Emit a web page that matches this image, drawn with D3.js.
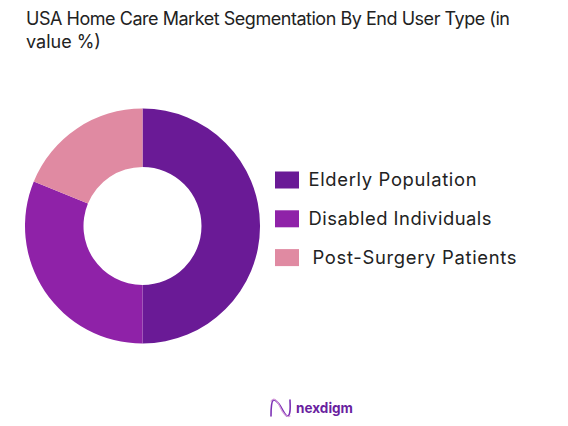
<!DOCTYPE html>
<html><head><meta charset="utf-8">
<script src="https://cdn.jsdelivr.net/npm/d3@7"></script>
<style>html,body{margin:0;padding:0;background:#fff}svg{display:block}</style></head>
<body><svg id="c" width="568" height="426"></svg>
<script>
const titleLines = ["USA Home Care Market Segmentation By End User Type (in", "value %)"];
const categories = ["Elderly Population", "Disabled Individuals", "Post-Surgery Patients"];
const values = [50, 31.2, 18.8];
const colors = ["#6a1a96", "#8f22a8", "#e08aa2"];
const brand = "nexdigm";

const svg = d3.select("#c");
const font = "Inter, 'Open Sans', sans-serif";

svg.selectAll("text.title").data(titleLines).join("text").attr("class","title")
  .attr("x",26).attr("y",(d,i)=>24.5+i*23.5)
  .attr("font-family",font).attr("font-size",18).attr("fill","#222").text(d=>d)
  .each(function(d,i){ if(i===0){ this.setAttribute("textLength",484); this.setAttribute("lengthAdjust","spacing"); } });

const pie = d3.pie().sort(null).value(d=>d)(values);
const arc = d3.arc().innerRadius(59).outerRadius(117.5);
svg.append("g").attr("transform","translate(142.5,226)")
  .selectAll("path").data(pie).join("path").attr("d",arc).attr("fill",(d,i)=>colors[i]);

const y = d3.scalePoint().domain(categories).range([180,257.6]);
const legendWidths = [168, 183, 204];
const lg = svg.append("g").selectAll("g").data(categories).join("g")
  .attr("transform",d=>`translate(0,${y(d)})`);
lg.append("rect").attr("x",275).attr("y",-8.5).attr("width",24).attr("height",17).attr("fill",(d,i)=>colors[i]);
lg.append("text").attr("x",(d,i)=>i===2?312.5:308.5).attr("y",6)
  .attr("font-family",font).attr("font-size",18.4).attr("fill","#222")
  .attr("textLength",(d,i)=>legendWidths[i]).attr("lengthAdjust","spacing").text(d=>d);

const logo = svg.append("g").attr("fill","none").attr("stroke-linecap","round");
logo.append("path").attr("d","M271 416 C271 396 274 398 279 404 C284 411 286 419 289 415 C291 411 290 404 290 400").attr("stroke","#7b2fb5").attr("stroke-width",1.6);
logo.append("path").attr("d","M271 401 C274 397 277 400 280 407 C283 414 287 418 290 416").attr("stroke","#d9a3dc").attr("stroke-width",1.2);
svg.append("text").attr("x",296).attr("y",413).attr("font-family",font).attr("font-size",14.5).attr("font-weight",700)
  .attr("textLength",57).attr("lengthAdjust","spacingAndGlyphs").attr("fill","#6a1fa0").text(brand);
</script></body></html>
